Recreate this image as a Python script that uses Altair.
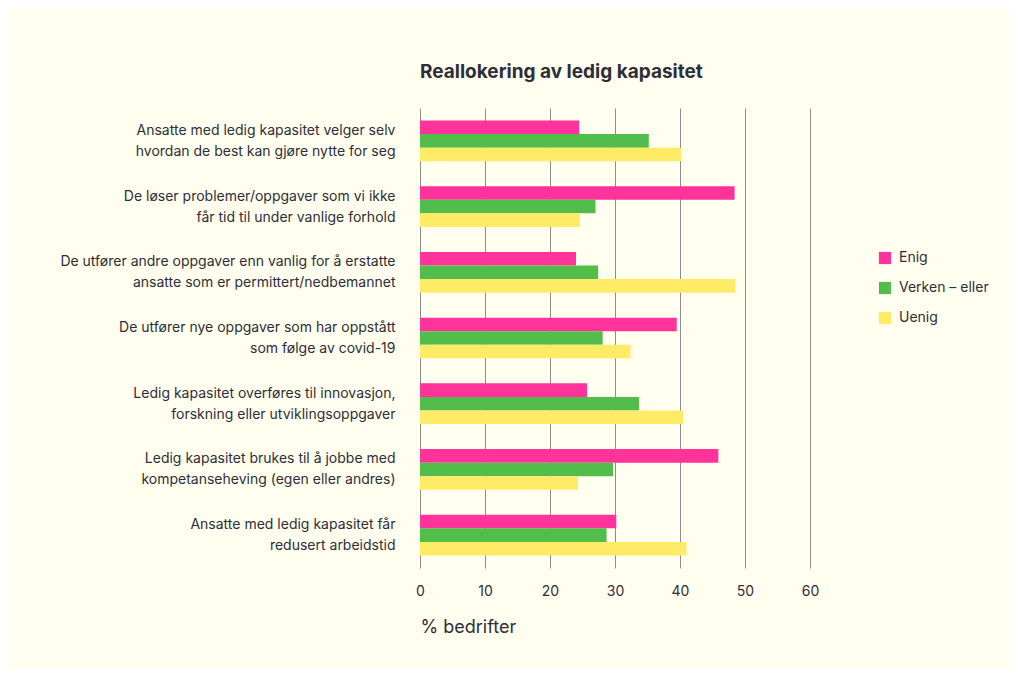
import altair as alt
import pandas as pd

categories = [
    "Ansatte med ledig kapasitet velger selv\nhvordan de best kan gjøre nytte for seg",
    "De løser problemer/oppgaver som vi ikke\nfår tid til under vanlige forhold",
    "De utfører andre oppgaver enn vanlig for å erstatte\nansatte som er permittert/nedbemannet",
    "De utfører nye oppgaver som har oppstått\nsom følge av covid-19",
    "Ledig kapasitet overføres til innovasjon,\nforskning eller utviklingsoppgaver",
    "Ledig kapasitet brukes til å jobbe med\nkompetanseheving (egen eller andres)",
    "Ansatte med ledig kapasitet får\nredusert arbeidstid",
]
series = ["Enig", "Verken – eller", "Uenig"]
enig = [24.5, 48.4, 24.0, 39.5, 25.7, 45.9, 30.2]
verken = [35.2, 27.0, 27.4, 28.1, 33.7, 29.7, 28.7]
uenig = [40.2, 24.6, 48.5, 32.4, 40.5, 24.3, 41.0]
colors = ["#ff3399", "#52bd4a", "#ffeb66"]

rows = []
for i, c in enumerate(categories):
    for s, vals in zip(series, [enig, verken, uenig]):
        rows.append({"kategori": c, "svar": s, "verdi": vals[i]})
df = pd.DataFrame(rows)

FONT = "Inter"
TXT = "#2e2e38"

chart = alt.Chart(df).mark_bar().encode(
    x=alt.X("verdi:Q",
            scale=alt.Scale(domain=[0, 60], nice=False),
            axis=alt.Axis(values=[0, 10, 20, 30, 40, 50, 60], grid=True,
                          gridColor="#8c8c8c", gridWidth=1, domain=False, ticks=False,
                          labelPadding=16, labelFontSize=14, labelColor=TXT,
                          labelFont=FONT, labelFlush=False,
                          title="% bedrifter", titleFont=FONT, titleFontSize=18,
                          titleFontWeight="normal", titleColor=TXT,
                          titleAnchor="start", titleAlign="left", titlePadding=20)),
    y=alt.Y("kategori:N", sort=categories,
            scale=alt.Scale(paddingInner=0.38, paddingOuter=0.19),
            axis=alt.Axis(title=None, domain=False, ticks=False, labelPadding=25,
                          labelFontSize=14, labelColor=TXT, labelFont=FONT,
                          labelLineHeight=21, labelLimit=400, labelOffset=-10,
                          labelExpr="split(datum.label, '\\n')")),
    yOffset=alt.YOffset("svar:N", sort=series),
    color=alt.Color("svar:N", sort=series,
                    scale=alt.Scale(domain=series, range=colors),
                    legend=alt.Legend(title=None, orient="none", legendX=458, legendY=143,
                                      symbolType="square", symbolSize=150,
                                      symbolStrokeWidth=0, symbolOpacity=1,
                                      labelFontSize=14, labelFont=FONT, labelColor=TXT,
                                      rowPadding=16, labelOffset=7)),
).properties(
    width=390, height=460,
    title=alt.TitleParams("Reallokering av ledig kapasitet", anchor="start", frame="group",
                          font=FONT, fontSize=19, fontWeight="bold", color=TXT, offset=26),
    autosize=alt.AutoSizeParams(type="none"),
    padding={"left": 412, "top": 100, "right": 200, "bottom": 100},
    background="#fffeef",
).configure_view(stroke=None)

chart.save("out.html", embed_options={"renderer": "svg", "actions": False})
